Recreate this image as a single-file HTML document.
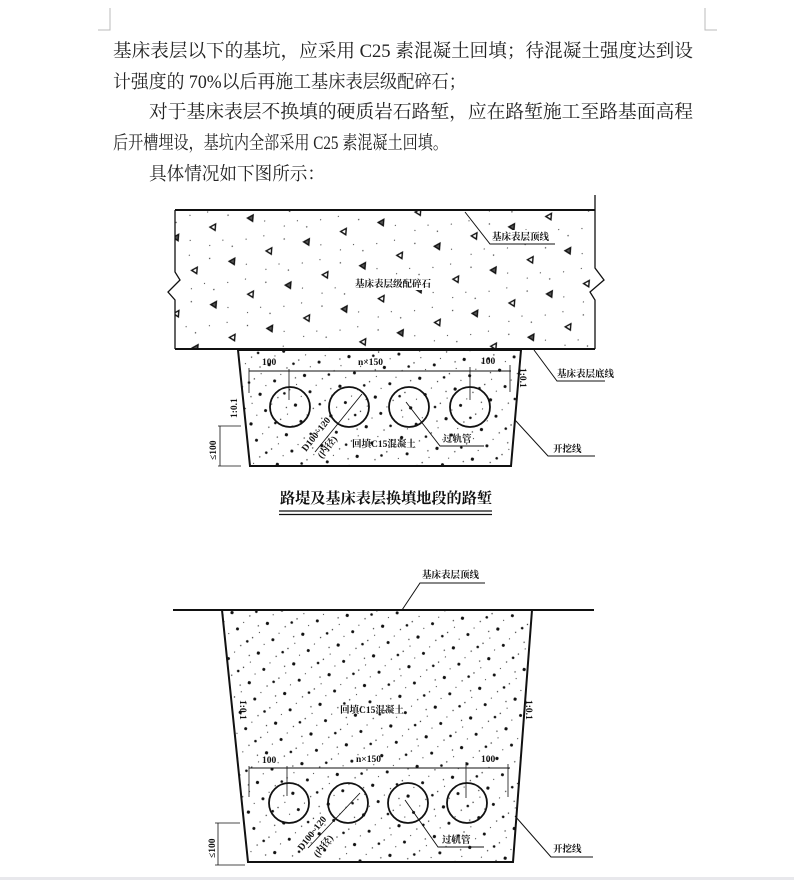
<!DOCTYPE html>
<html><head><meta charset="utf-8"><style>
html,body{margin:0;padding:0;background:#fff;}
svg{display:block;}
.t{font-family:"Liberation Serif","Noto Serif CJK SC",serif;font-size:18.5px;fill:#222;}
.l{font-family:"Liberation Serif","Noto Serif CJK SC",serif;font-size:9.5px;font-weight:bold;fill:#111;}
</style></head><body>
<svg width="794" height="880" viewBox="0 0 794 880" xmlns="http://www.w3.org/2000/svg">
<defs>
<pattern id="dots" width="37" height="31" patternUnits="userSpaceOnUse" patternTransform="rotate(17)">
<circle cx="4" cy="5" r="1.5" fill="#111"/><circle cx="21" cy="9" r="0.7" fill="#333"/><circle cx="31" cy="22" r="1.6" fill="#111"/>
<circle cx="12" cy="20" r="0.7" fill="#444"/><circle cx="26" cy="2" r="0.6" fill="#444"/><circle cx="8" cy="28" r="0.6" fill="#444"/>
<circle cx="17" cy="14" r="1.3" fill="#111"/><circle cx="34" cy="12" r="0.6" fill="#444"/><circle cx="23" cy="27" r="0.7" fill="#444"/>
</pattern>
<pattern id="tri" width="61" height="47" patternUnits="userSpaceOnUse" patternTransform="rotate(23)">
<path d="M8 10 l4 -5 l2 6 z" fill="#555" stroke="#111" stroke-width="1.4"/>
<path d="M38 33 l4 -5 l2 6 z" fill="none" stroke="#111" stroke-width="1.4"/>
<circle cx="25" cy="6" r="0.6" fill="#444"/><circle cx="50" cy="15" r="0.7" fill="#444"/><circle cx="15" cy="30" r="0.6" fill="#444"/>
<circle cx="30" cy="20" r="0.6" fill="#444"/><circle cx="55" cy="40" r="0.6" fill="#444"/><circle cx="5" cy="42" r="0.7" fill="#444"/>
<circle cx="45" cy="3" r="0.6" fill="#444"/>
</pattern>
</defs>
<path d="M110 8 V30 H98" fill="none" stroke="#bbb" stroke-width="1"/>
<path d="M705 8 V30 H717" fill="none" stroke="#bbb" stroke-width="1"/>
<text class="t" x="113" y="57" textLength="580" lengthAdjust="spacingAndGlyphs">基床表层以下的基坑，应采用 C25 素混凝土回填；待混凝土强度达到设</text>
<text class="t" x="113" y="88" textLength="198" lengthAdjust="spacingAndGlyphs">计强度的 70%以后再施工</text>
<text class="t" x="311" y="88" textLength="155" lengthAdjust="spacingAndGlyphs">基床表层级配碎石；</text>
<text class="t" x="149" y="118" textLength="544" lengthAdjust="spacingAndGlyphs">对于基床表层不换填的硬质岩石路堑，应在路堑施工至路基面高程</text>
<text class="t" x="113" y="149" textLength="335" lengthAdjust="spacingAndGlyphs">后开槽埋设，基坑内全部采用 C25 素混凝土回填。</text>
<text class="t" x="149" y="180" textLength="176" lengthAdjust="spacingAndGlyphs">具体情况如下图所示：</text>

<path d="M175 210 H595 V268 L604 280 L590 292 L595 300 V349 H175 V300 L168 292 L180 280 L175 272 Z" fill="url(#tri)"/>
<path d="M175 210 H595" stroke="#111" stroke-width="2"/>
<path d="M595 195 V268 L604 280 L590 292 L595 300 V349" fill="none" stroke="#111" stroke-width="1.3"/>
<path d="M175 210 V272 L180 280 L168 292 L175 300 V349" fill="none" stroke="#111" stroke-width="1.3"/>
<path d="M175 349 H595" stroke="#111" stroke-width="2"/>
<rect x="352" y="276" width="80" height="14" fill="#fff"/>
<text class="l" x="355" y="287">基床表层级配碎石</text>
<path d="M465 212 L490 244 H555" fill="none" stroke="#111" stroke-width="1"/>
<rect x="490" y="230" width="64" height="13" fill="#fff"/>
<text class="l" x="492" y="240">基床表层顶线</text>

<path d="M238 350 L250 466 H511 L521 350 Z" fill="url(#dots)" stroke="#111" stroke-width="2"/>
<path d="M534 350 L557 381 H605" fill="none" stroke="#111" stroke-width="1"/>
<text class="l" x="557" y="377">基床表层底线</text>
<path d="M515 420 L548 456 H595" fill="none" stroke="#111" stroke-width="1"/>
<text class="l" x="553" y="452">开挖线</text>
<path d="M249 371 H511" stroke="#111" stroke-width="1"/>
<path d="M249 368 V393 M510 365 V392" stroke="#111" stroke-width="0.8"/>
<path d="M289 369 V400 M470 367 V400" stroke="#111" stroke-width="0.8"/>
<text class="l" x="262" y="365">100</text><text class="l" x="358" y="365">n×150</text><text class="l" x="481" y="364">100</text>
<g fill="none" stroke="#111" stroke-width="1.8">
<circle cx="290" cy="407" r="20"/><circle cx="349" cy="407" r="20"/><circle cx="409" cy="407" r="20"/><circle cx="470" cy="407" r="20"/>
</g>
<path d="M315 452 L362 394" stroke="#111" stroke-width="0.9"/>
<path d="M406 402 L440 446 H484" fill="none" stroke="#111" stroke-width="0.9"/>
<text class="l" x="443" y="442">过轨管</text>
<text class="l" x="352" y="447">回填C15混凝土</text>
<text class="l" transform="translate(306 452) rotate(-52)">D100~120</text>
<text class="l" transform="translate(322 459) rotate(-52)">(内径)</text>
<text class="l" transform="translate(237 418) rotate(-90)">1:0.1</text>
<text class="l" transform="translate(520 368) rotate(90)">1:0.1</text>
<path d="M218 426 H241 M218 466 H241 M220 426 V466" fill="none" stroke="#111" stroke-width="0.8"/>
<text class="l" transform="translate(216 460) rotate(-90)">≤100</text>
<text x="280" y="503" style="font-family:'Noto Serif CJK SC',serif;font-size:15px;font-weight:bold;fill:#111" textLength="212" lengthAdjust="spacingAndGlyphs">路堤及基床表层换填地段的路堑</text>
<path d="M279 511 H492" stroke="#111" stroke-width="1.3"/><path d="M279 514.5 H492" stroke="#111" stroke-width="1.3"/>

<path d="M222 610 L248 862 H513 L532 610 Z" fill="url(#dots)" stroke="#111" stroke-width="2"/>
<path d="M173 610 H594" stroke="#111" stroke-width="2"/>
<path d="M402 610 L420 583 H485" fill="none" stroke="#111" stroke-width="1"/>
<text class="l" x="422" y="578">基床表层顶线</text>
<text class="l" x="340" y="713">回填C15混凝土</text>
<text class="l" transform="translate(240 700) rotate(90)">1:0.1</text>
<text class="l" transform="translate(526 700) rotate(90)">1:0.1</text>
<path d="M249 768 H510" stroke="#111" stroke-width="1"/>
<path d="M249 766 V797 M508 764 V797" stroke="#111" stroke-width="0.8"/>
<path d="M287 766 V796 M466 762 V798" stroke="#111" stroke-width="0.8"/>
<text class="l" x="262" y="763">100</text><text class="l" x="356" y="762">n×150</text><text class="l" x="481" y="762">100</text>
<g fill="none" stroke="#111" stroke-width="1.8">
<circle cx="289" cy="803" r="20"/><circle cx="348" cy="803" r="20"/><circle cx="408" cy="803" r="20"/><circle cx="467" cy="803" r="20"/>
</g>
<path d="M308 848 L360 793" stroke="#111" stroke-width="0.9"/>
<path d="M405 800 L438 847 H484" fill="none" stroke="#111" stroke-width="0.9"/>
<text class="l" x="442" y="843">过轨管</text>
<text class="l" transform="translate(302 851) rotate(-52)">D100~120</text>
<text class="l" transform="translate(318 858) rotate(-52)">(内径)</text>
<path d="M515 816 L551 857 H593" fill="none" stroke="#111" stroke-width="1"/>
<text class="l" x="553" y="852">开挖线</text>
<path d="M215 823 H240 M215 865 H245 M218 823 V865" fill="none" stroke="#111" stroke-width="0.8"/>
<text class="l" transform="translate(215 858) rotate(-90)">≤100</text>
<rect x="0" y="877" width="794" height="3" fill="#e8e8ec"/>
</svg>
</body></html>
